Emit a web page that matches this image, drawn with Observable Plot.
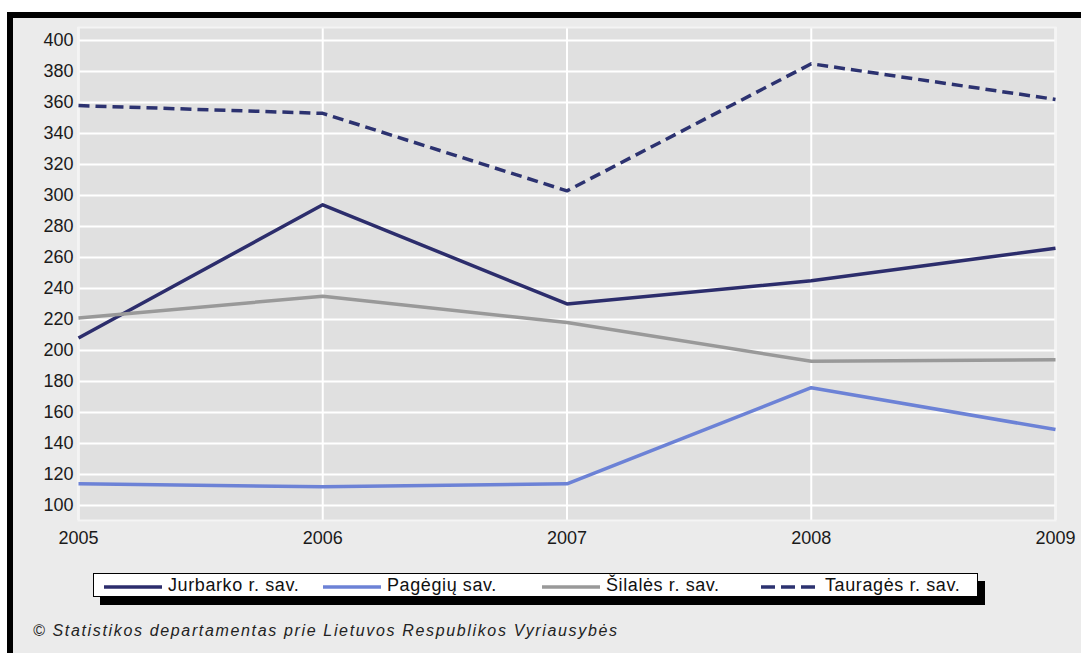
<!DOCTYPE html>
<html>
<head>
<meta charset="utf-8">
<script src="https://cdn.jsdelivr.net/npm/d3@7"></script>
<script src="https://cdn.jsdelivr.net/npm/@observablehq/plot@0.6"></script>
<style>
  html, body { margin: 0; padding: 0; background: #ffffff; width: 1081px; height: 653px; overflow: hidden; }
  #frame { position: absolute; left: 7px; top: 12px; width: 1074px; height: 641px; box-sizing: border-box;
           border-top: 6px solid #000; border-left: 6px solid #000; background: #ebebeb; }
  #chart { position: absolute; left: 0; top: 0; }
  #legend { position: absolute; left: 93px; top: 573px; width: 885px; height: 24px; box-sizing: border-box;
            background: #fff; border: 1px solid #000; box-shadow: 7px 8px 0 #000; }
  .item { position: absolute; top: 0; height: 22px; }
  .item svg { position: absolute; top: 0; left: 0; }
  .item span { position: absolute; top: 1px; white-space: nowrap; font-family: "Liberation Sans", Arial, sans-serif;
               font-size: 18px; letter-spacing: 0.6px; color: #111; line-height: 20px; }
  #caption { position: absolute; left: 33px; top: 622px; font-family: "Liberation Sans", Arial, sans-serif;
             font-style: italic; font-size: 16px; letter-spacing: 1.65px; color: #222; white-space: nowrap; }
</style>
</head>
<body>
<div id="frame"></div>
<div id="chart"></div>
<div id="legend"></div>
<div id="caption">© Statistikos departamentas prie Lietuvos Respublikos Vyriausybės</div>
<script>
const years = [2005, 2006, 2007, 2008, 2009];
const seriesNames = ["Jurbarko r. sav.", "Pagėgių sav.", "Šilalės r. sav.", "Tauragės r. sav."];
const jurbarko = [208, 294, 230, 245, 266];
const pagegiu = [114, 112, 114, 176, 149];
const silales = [221, 235, 218, 193, 194];
const taurages = [358, 353, 303, 385, 362];
const yTicks = [100, 120, 140, 160, 180, 200, 220, 240, 260, 280, 300, 320, 340, 360, 380, 400];
const colors = ["#2c2d6c", "#6c82d6", "#999999", "#2c3270"];
const dashes = [null, null, null, "11,6"];

const valuesBySeries = [jurbarko, pagegiu, silales, taurages];
const data = [];
seriesNames.forEach((name, i) => {
  years.forEach((yr, j) => data.push({series: name, year: yr, value: valuesBySeries[i][j]}));
});

const lineMarks = seriesNames.map((name, i) =>
  Plot.line(data.filter(d => d.series === name), {
    x: "year", y: "value", stroke: colors[i], strokeWidth: 3.5,
    strokeDasharray: dashes[i] ?? undefined, strokeLinejoin: "round", strokeLinecap: "butt"
  })
);

const chart = Plot.plot({
  width: 1081,
  height: 560,
  marginLeft: 78,
  marginRight: 26,
  marginTop: 27,
  marginBottom: 40,
  style: {background: "transparent", fontFamily: "'Liberation Sans', Arial, sans-serif", fontSize: "18px", color: "#1a1a1a"},
  x: {domain: [2005, 2009]},
  y: {domain: [90.3, 408.4]},
  marks: [
    Plot.frame({fill: "#e0e0e0", stroke: "none"}),
    Plot.ruleY(yTicks, {stroke: "#ffffff", strokeWidth: 2}),
    Plot.ruleX(years, {stroke: "#ffffff", strokeWidth: 2}),
    Plot.frame({stroke: "#f4f4f4", strokeWidth: 2}),
    ...lineMarks,
    Plot.axisY({ticks: yTicks, tickSize: 0, tickPadding: 5, label: null, fontSize: 18}),
    Plot.axisX({ticks: years, tickFormat: d => String(d), tickSize: 0, tickPadding: 11, label: null, fontSize: 18})
  ]
});
document.getElementById("chart").appendChild(chart);

// Legend
const legend = document.getElementById("legend");
const itemLefts = [9, 228, 447, 666];
seriesNames.forEach((name, i) => {
  const item = document.createElement("div");
  item.className = "item";
  item.style.left = itemLefts[i] + "px";
  const ns = "http://www.w3.org/2000/svg";
  const svg = document.createElementNS(ns, "svg");
  svg.setAttribute("width", 60);
  svg.setAttribute("height", 22);
  const ln = document.createElementNS(ns, "line");
  ln.setAttribute("x1", 1); ln.setAttribute("x2", 59);
  ln.setAttribute("y1", 13); ln.setAttribute("y2", 13);
  ln.setAttribute("stroke", colors[i]);
  ln.setAttribute("stroke-width", 3.5);
  if (dashes[i]) ln.setAttribute("stroke-dasharray", "14,6");
  svg.appendChild(ln);
  item.appendChild(svg);
  const sp = document.createElement("span");
  sp.style.left = "65px";
  sp.textContent = name;
  item.appendChild(sp);
  legend.appendChild(item);
});
</script>
</body>
</html>
